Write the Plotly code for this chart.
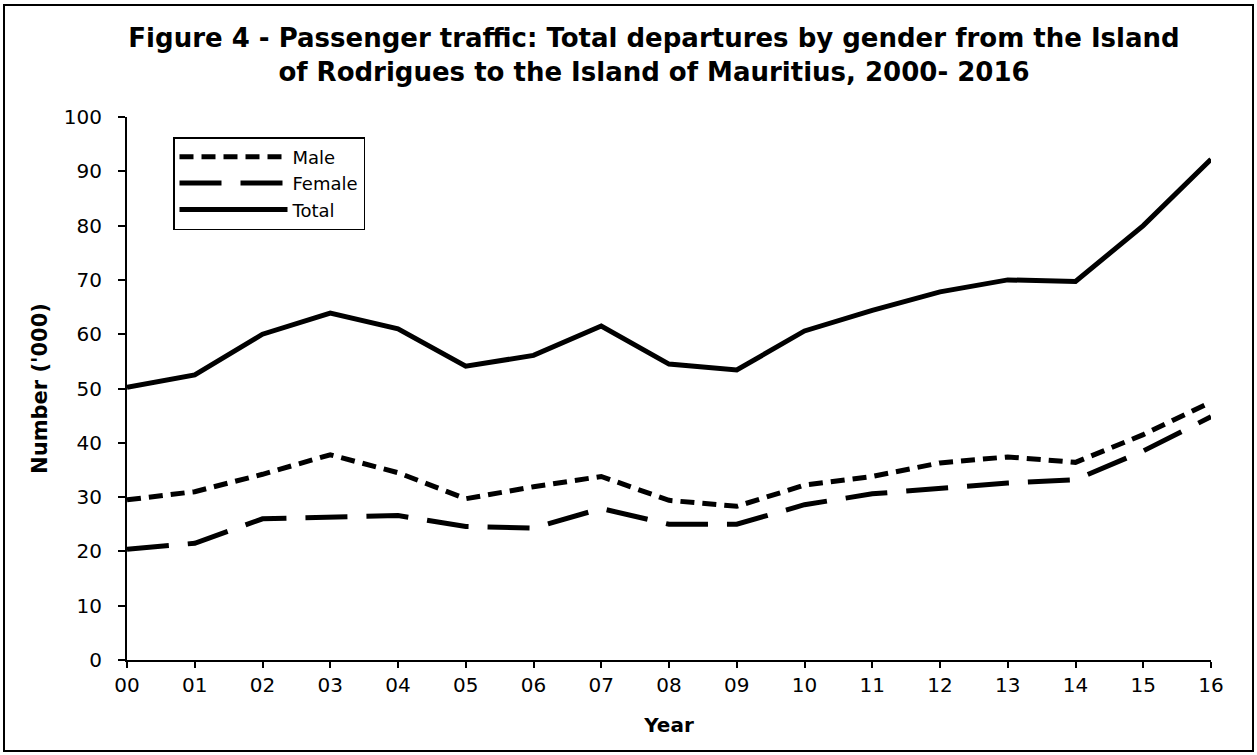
import plotly.graph_objects as go

years = ["00", "01", "02", "03", "04", "05", "06", "07", "08", "09", "10", "11", "12", "13", "14", "15", "16"]
male = [29.5, 31.0, 34.2, 37.8, 34.5, 29.7, 31.9, 33.8, 29.4, 28.3, 32.2, 33.8, 36.3, 37.4, 36.4, 41.5, 47.5]
female = [20.4, 21.5, 26.0, 26.4, 26.6, 24.6, 24.3, 27.9, 25.0, 25.0, 28.6, 30.6, 31.7, 32.6, 33.2, 38.5, 44.8]
total = [50.2, 52.5, 60.0, 63.9, 61.0, 54.1, 56.1, 61.5, 54.5, 53.4, 60.6, 64.4, 67.8, 70.0, 69.7, 80.0, 92.2]
y_ticks = [0, 10, 20, 30, 40, 50, 60, 70, 80, 90, 100]

W, H = 1257, 755
ml, mr, mt, mb = 127, 46, 117, 95
pw, ph = W - ml - mr, H - mt - mb

def px_x(p):
    return (p - ml) / pw

def px_y(p):
    return (H - mb - p) / ph

xs = list(range(len(years)))
fig = go.Figure()
fig.add_trace(go.Scatter(x=xs, y=male, name="Male", mode="lines",
                         line=dict(color="black", width=5, dash="14px,8px")))
fig.add_trace(go.Scatter(x=xs, y=female, name="Female", mode="lines",
                         line=dict(color="black", width=5, dash="42px,19px")))
fig.add_trace(go.Scatter(x=xs, y=total, name="Total", mode="lines",
                         line=dict(color="black", width=5)))

font = "DejaVu Sans, Arial, sans-serif"
fig.update_layout(
    width=W, height=H,
    margin=dict(l=ml, r=mr, t=mt, b=mb),
    paper_bgcolor="white", plot_bgcolor="white",
    font=dict(family=font, color="black", size=20),
    title=dict(text="<b>Figure 4 - Passenger traffic: Total departures by gender from the Island<br>of Rodrigues to the Island of Mauritius, 2000- 2016</b>",
               x=px_x(654), xref="paper", xanchor="center", y=1 - 47 / H, yanchor="middle",
               font=dict(size=26, family=font)),
    showlegend=True,
    legend=dict(x=px_x(173), y=px_y(137), xanchor="left", yanchor="top",
                bordercolor="black", borderwidth=1.5, bgcolor="white",
                font=dict(size=18, family=font), itemwidth=108),
    xaxis=dict(range=[0, len(years) - 1], tickmode="array", tickvals=xs,
               ticktext=years, showline=True, linecolor="black", linewidth=2,
               ticks="outside", ticklen=6, tickwidth=2, tickcolor="black",
               showgrid=False, zeroline=False, tickfont=dict(size=20),
               title=dict(text="<b>Year</b>", font=dict(size=20), standoff=22)),
    yaxis=dict(range=[0, 100], tickmode="array", tickvals=y_ticks,
               showline=True, linecolor="black", linewidth=2,
               ticks="outside", ticklen=7, tickwidth=2, tickcolor="black",
               ticklabelstandoff=12,
               showgrid=False, zeroline=False, tickfont=dict(size=20),
               title=dict(text="<b>Number ('000)</b>", font=dict(size=21), standoff=10)),
)

fig.add_shape(type="rect", xref="paper", yref="paper",
              x0=px_x(4), x1=px_x(1253), y0=px_y(751), y1=px_y(5),
              line=dict(color="black", width=2), fillcolor="rgba(0,0,0,0)", layer="below")

fig.write_html("out.html", config={"displayModeBar": False},
               post_script="document.body.style.margin='0';document.body.style.overflow='hidden';")
